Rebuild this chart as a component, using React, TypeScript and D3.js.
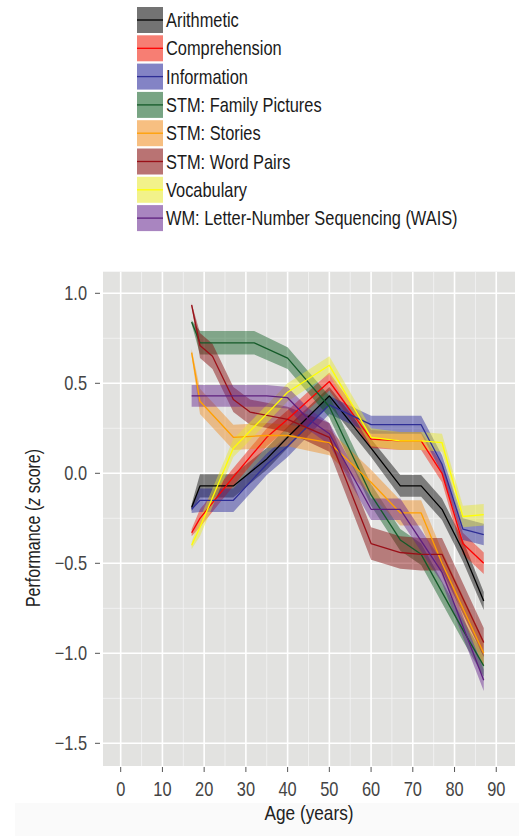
import React from 'react';
import * as d3 from 'd3';

const seriesNames = [
  'Arithmetic',
  'Comprehension',
  'Information',
  'STM: Family Pictures',
  'STM: Stories',
  'STM: Word Pairs',
  'Vocabulary',
  'WM: Letter-Number Sequencing (WAIS)',
];

const arithmeticAges = [17, 19, 27, 35, 40, 50, 60, 67, 72, 77, 82, 87];
const arithmeticZ = [-0.19, -0.07, -0.07, 0.08, 0.2, 0.43, 0.14, -0.07, -0.07, -0.2, -0.43, -0.71];
const arithmeticSE = [0.02, 0.065, 0.065, 0.06, 0.06, 0.05, 0.05, 0.06, 0.06, 0.06, 0.06, 0.05];

const comprehensionAges = [17, 19, 27, 35, 40, 50, 60, 67, 72, 77, 82, 87];
const comprehensionZ = [-0.33, -0.25, -0.02, 0.2, 0.3, 0.51, 0.19, 0.18, 0.18, 0.0, -0.39, -0.5];
const comprehensionSE = [0.02, 0.05, 0.05, 0.05, 0.05, 0.05, 0.05, 0.05, 0.05, 0.05, 0.06, 0.06];

const informationAges = [17, 19, 27, 35, 40, 50, 60, 67, 72, 77, 82, 87];
const informationZ = [-0.2, -0.15, -0.15, 0.05, 0.15, 0.38, 0.27, 0.27, 0.27, 0.05, -0.31, -0.34];
const informationSE = [0.02, 0.065, 0.065, 0.06, 0.06, 0.05, 0.05, 0.05, 0.05, 0.05, 0.06, 0.06];

const familyPicturesAges = [17, 19, 27, 32, 40, 50, 60, 67, 72, 77, 82, 87];
const familyPicturesZ = [0.84, 0.725, 0.725, 0.725, 0.64, 0.37, -0.12, -0.37, -0.45, -0.66, -0.87, -1.07];
const familyPicturesSE = [0.01, 0.065, 0.065, 0.065, 0.06, 0.06, 0.06, 0.06, 0.06, 0.06, 0.06, 0.06];

const storiesAges = [17, 19, 27, 35, 40, 50, 60, 67, 72, 77, 82, 87];
const storiesZ = [0.67, 0.4, 0.2, 0.21, 0.21, 0.17, -0.05, -0.22, -0.22, -0.5, -0.75, -1.0];
const storiesSE = [0.02, 0.07, 0.07, 0.07, 0.06, 0.07, 0.07, 0.07, 0.07, 0.07, 0.07, 0.07];

const wordPairsAges = [17, 19, 22, 27, 31, 40, 50, 60, 67, 72, 77, 87];
const wordPairsZ = [0.935, 0.71, 0.65, 0.41, 0.34, 0.3, 0.2, -0.39, -0.44, -0.45, -0.45, -0.94];
const wordPairsSE = [0.01, 0.07, 0.07, 0.07, 0.07, 0.07, 0.08, 0.09, 0.09, 0.09, 0.09, 0.08];

const vocabularyAges = [17, 19, 27, 35, 40, 50, 60, 67, 72, 77, 82, 87];
const vocabularyZ = [-0.4, -0.3, 0.14, 0.33, 0.45, 0.6, 0.2, 0.18, 0.18, 0.17, -0.24, -0.23];
const vocabularySE = [0.02, 0.05, 0.05, 0.05, 0.05, 0.05, 0.05, 0.05, 0.05, 0.05, 0.06, 0.06];

const wmAges = [17, 19, 27, 35, 40, 45, 50, 60, 67, 72, 77, 87];
const wmZ = [0.43, 0.43, 0.43, 0.43, 0.42, 0.3, 0.22, -0.2, -0.2, -0.375, -0.55, -1.15];
const wmSE = [0.06, 0.06, 0.06, 0.06, 0.06, 0.06, 0.06, 0.06, 0.06, 0.06, 0.06, 0.06];

const lineColors = ['#000000', '#ff0000', '#2e2e96', '#145a28', '#ffa000', '#9a1018', '#ffff00', '#5e1f7e'];
const fillColors = ['#000000', '#f01400', '#1e1e96', '#0a5a1e', '#f08a1a', '#800000', '#e8e82a', '#62208c'];

const xTicks = [0, 10, 20, 30, 40, 50, 60, 70, 80, 90];
const xMinor = [5, 15, 25, 35, 45, 55, 65, 75, 85];
const yTicks = [1.0, 0.5, 0.0, -0.5, -1.0, -1.5];
const yTickLabels = ['1.0', '0.5', '0.0', '\u22120.5', '\u22121.0', '\u22121.5'];
const yMinor = [0.75, 0.25, -0.25, -0.75, -1.25];

const FONT = "'Liberation Sans', Arial, sans-serif";
const NARROW = 0.82;

type Pt = { age: number; z: number; se: number };

function build(ages: number[], z: number[], se: number[]): Pt[] {
  return ages.map((a, i) => ({ age: a, z: z[i], se: se[i] }));
}

const allSeries: Pt[][] = [
  build(arithmeticAges, arithmeticZ, arithmeticSE),
  build(comprehensionAges, comprehensionZ, comprehensionSE),
  build(informationAges, informationZ, informationSE),
  build(familyPicturesAges, familyPicturesZ, familyPicturesSE),
  build(storiesAges, storiesZ, storiesSE),
  build(wordPairsAges, wordPairsZ, wordPairsSE),
  build(vocabularyAges, vocabularyZ, vocabularySE),
  build(wmAges, wmZ, wmSE),
];

export default function App() {
  const W = 519;
  const H = 836;
  const x = d3.scaleLinear().domain([-4.24, 94.49]).range([103, 515]);
  const y = d3.scaleLinear().domain([-1.626, 1.12]).range([766, 271.7]);
  const [x0, x1] = x.range();
  const [yb, yt] = y.range();

  const line = d3
    .line<Pt>()
    .x((d) => x(d.age))
    .y((d) => y(d.z));
  const area = d3
    .area<Pt>()
    .x((d) => x(d.age))
    .y0((d) => y(d.z - d.se))
    .y1((d) => y(d.z + d.se));

  const legendY0 = 20;
  const legendStep = 28.3;

  return (
    <svg
      width={W}
      height={H}
      style={{ position: 'absolute', left: 0, top: 0, background: '#ffffff' }}
      fontFamily={FONT}
    >
      <rect x={0} y={0} width={W} height={H} fill="#ffffff" />
      <rect x={15} y={803} width={W - 15} height={H - 803} fill="#fafafa" />

      {/* legend */}
      {seriesNames.map((name, i) => {
        const cy = legendY0 + i * legendStep;
        return (
          <g key={name}>
            <rect x={137} y={cy - 13} width={26} height={26} fill={fillColors[i]} fillOpacity={0.55} />
            <line x1={137} x2={163} y1={cy} y2={cy} stroke={lineColors[i]} strokeWidth={1.3} />
            <text transform={`translate(166,${cy + 7}) scale(${NARROW},1)`} fontSize={20} fill="#1a1a1a">
              {name}
            </text>
          </g>
        );
      })}

      {/* panel */}
      <rect x={x0} y={yt} width={x1 - x0} height={yb - yt} fill="#e2e2e0" />
      {xMinor.map((t) => (
        <line key={'xm' + t} x1={x(t)} x2={x(t)} y1={yt} y2={yb} stroke="#f2f2f2" strokeWidth={0.9} />
      ))}
      {yMinor.map((t) => (
        <line key={'ym' + t} x1={x0} x2={x1} y1={y(t)} y2={y(t)} stroke="#f2f2f2" strokeWidth={0.9} />
      ))}
      {xTicks.map((t) => (
        <line key={'xg' + t} x1={x(t)} x2={x(t)} y1={yt} y2={yb} stroke="#ffffff" strokeWidth={1.6} />
      ))}
      {yTicks.map((t) => (
        <line key={'yg' + t} x1={x0} x2={x1} y1={y(t)} y2={y(t)} stroke="#ffffff" strokeWidth={1.6} />
      ))}

      {/* ribbons */}
      {allSeries.map((s, i) => (
        <path key={'r' + i} d={area(s) || ''} fill={fillColors[i]} fillOpacity={0.45} stroke="none" />
      ))}
      {/* lines */}
      {allSeries.map((s, i) => (
        <path key={'l' + i} d={line(s) || ''} fill="none" stroke={lineColors[i]} strokeWidth={1.3} strokeLinejoin="round" />
      ))}

      {/* axes */}
      {xTicks.map((t) => (
        <g key={'xt' + t}>
          <line x1={x(t)} x2={x(t)} y1={yb + 1} y2={yb + 6} stroke="#555" strokeWidth={1} />
          <text
            transform={`translate(${x(t)},796) scale(${NARROW},1)`}
            textAnchor="middle"
            fontSize={20}
            fill="#444"
          >
            {t}
          </text>
        </g>
      ))}
      {yTicks.map((t, i) => (
        <g key={'yt' + t}>
          <line x1={95} x2={100} y1={y(t)} y2={y(t)} stroke="#555" strokeWidth={1} />
          <text
            transform={`translate(87,${y(t) + 7}) scale(${NARROW},1)`}
            textAnchor="end"
            fontSize={20}
            fill="#444"
          >
            {yTickLabels[i]}
          </text>
        </g>
      ))}

      <text
        transform={`translate(${(x0 + x1) / 2},820) scale(${NARROW},1)`}
        textAnchor="middle"
        fontSize={21}
        fill="#222"
      >
        Age (years)
      </text>
      <text
        transform={`translate(40,528) rotate(-90) scale(${NARROW},1)`}
        textAnchor="middle"
        fontSize={19.5}
        fill="#222"
      >
        Performance (<tspan fontStyle="italic">z</tspan> score)
      </text>
    </svg>
  );
}
